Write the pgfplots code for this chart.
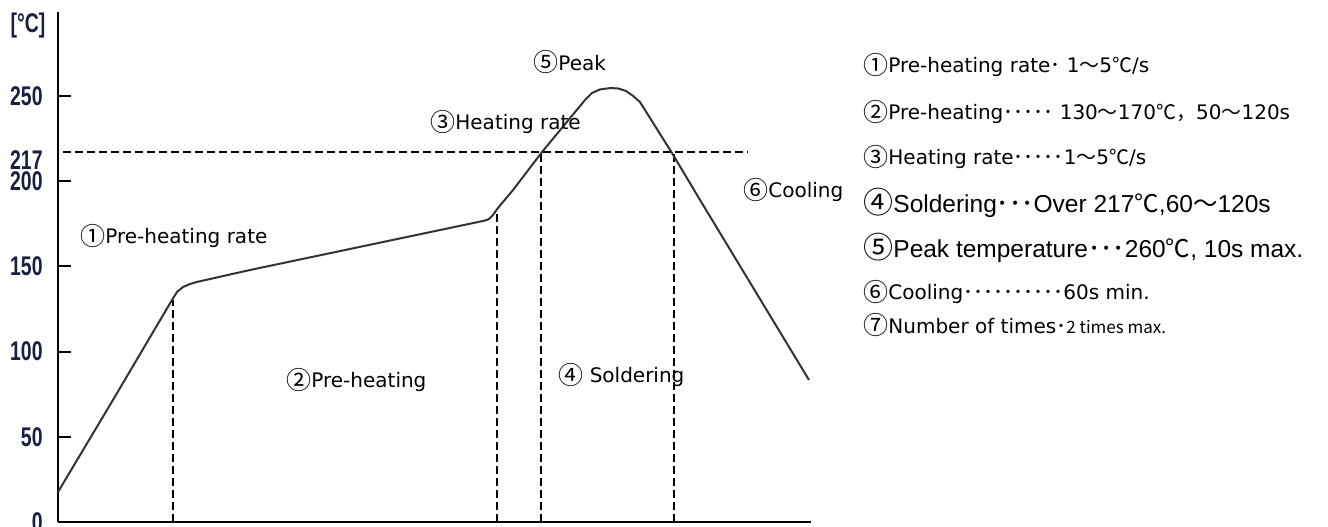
\documentclass[border=0pt]{standalone}
\usepackage{fontspec}
\usepackage{graphicx}
\usepackage{pgfplots}
\pgfplotsset{compat=1.18}
\setmainfont{DejaVu Sans}
\newfontfamily\arial{Liberation Sans}
\newfontfamily\cjk{Noto Sans CJK JP}
\definecolor{ticktext}{rgb}{0.1,0.12,0.25}
\newcommand\tl[1]{\scalebox{0.72}[1]{#1}}
\newcommand\D{{\cjk ･}}
\newcommand\cn[1]{{\cjk\fontsize{12.5}{12.5}\selectfont\raisebox{-0.6pt}{#1}}}
\newcommand\cb[1]{{\cjk\fontsize{15}{15}\selectfont\raisebox{-0.8pt}{#1}}}
\begin{document}
\begin{tikzpicture}
\path[use as bounding box] (-29pt,-2pt) rectangle (635pt,261pt);
\begin{axis}[
  at={(0,0)}, anchor=south west,
  scale only axis, width=376.5pt, height=254.9pt,
  xmin=0, xmax=753, ymin=0, ymax=299,
  axis x line=bottom, axis y line=left,
  axis line style={-, line width=1pt, black},
  xtick=\empty,
  ytick={0,50,100,150,200,250},
  yticklabels={\tl{0},\tl{50},\tl{100},\tl{150},\tl{200},\tl{250}},
  tick align=inside, major tick length=6.5pt,
  tick style={line width=1pt, black},
  yticklabel style={anchor=east, inner sep=0pt, xshift=-7.5pt, text=ticktext,
    font=\arial\bfseries\fontsize{13.5}{13.5}\selectfont},
  extra y ticks={217}, extra y tick labels={\tl{217}},
  extra y tick style={major tick length=0pt, yticklabel style={yshift=-4pt}},
  clip=false,
]
% dashed guide lines
\addplot[black, line width=0.7pt, dash pattern=on 4pt off 2pt] coordinates {(5,217) (690,217)};
\addplot[black, line width=0.7pt, dash pattern=on 4pt off 2pt] coordinates {(115,0) (115,130)};
\addplot[black, line width=0.7pt, dash pattern=on 4pt off 2pt] coordinates {(439,0) (439,182)};
\addplot[black, line width=0.7pt, dash pattern=on 4pt off 2pt] coordinates {(483,0) (483,217)};
\addplot[black, line width=0.7pt, dash pattern=on 4pt off 2pt] coordinates {(616,0) (616,217)};
% reflow profile
\addplot[black!80, line width=1pt, line join=round] coordinates {
 (0,17.6) (55,71.6) (114,130.2) (119,134.9) (125,137.8) (132,139.6) (139,140.8)
 (192,147.8) (427,176.8) (431,177.7) (435,180.1) (440,184.2) (455,194.7)
 (484,217.0) (527,247.5) (534,251.6) (542,253.7) (552,254.5) (560,254.3)
 (568,252.8) (575,249.9) (582,246.3) (614,216.4) (642,188.9) (751,83.3)
};
\end{axis}
% axis unit label
\node[text=ticktext, font=\arial\bfseries\fontsize{13.5}{13.5}\selectfont, inner sep=0pt] at (-15pt,248pt) {\tl{[°C]}};
% in-plot labels
\begin{scope}[every node/.style={anchor=west, inner sep=0pt, font=\fontsize{10}{12}\selectfont}]
\node at (11pt,143pt) {\cn{①}Pre-heating rate};
\node at (114pt,71pt) {\cn{②}Pre-heating};
\node at (186pt,200pt) {\cn{③}Heating rate};
\node at (250pt,73.5pt) {\cn{④} Soldering};
\node at (237.5pt,230pt) {\cn{⑤}Peak};
\node at (342.5pt,166pt) {\cn{⑥}Cooling};
% right-hand specification list
\node at (402.5pt,228.5pt) {\cn{①}Pre-heating rate\D\ 1{\cjk ～}5{\cjk ℃}/s};
\node at (402.5pt,205pt) {\cn{②}Pre-heating\D\D\D\D\D\ 130{\cjk ～}170{\cjk ℃}{\cjk ，}50{\cjk ～}120s};
\node at (402.5pt,182.5pt) {\cn{③}Heating rate\D\D\D\D\D 1{\cjk ～}5{\cjk ℃}/s};
\node[font=\arial\fontsize{12.25}{14}\selectfont] at (402.5pt,159.5pt) {\cb{④}Soldering\D\D\D Over 217{\cjk ℃},60{\cjk ～}120s};
\node[font=\arial\fontsize{12.25}{14}\selectfont] at (402.5pt,137pt) {\cb{⑤}Peak temperature\D\D\D 260{\cjk ℃}, 10s max.};
\node at (402.5pt,115pt) {\cn{⑥}Cooling\D\D\D\D\D\D\D\D\D\D 60s min.};
\node at (402.5pt,98.5pt) {\cn{⑦}Number of times\D{\cjk\fontsize{8.5}{10}\selectfont 2 times max.}};
\end{scope}
\end{tikzpicture}
\end{document}
